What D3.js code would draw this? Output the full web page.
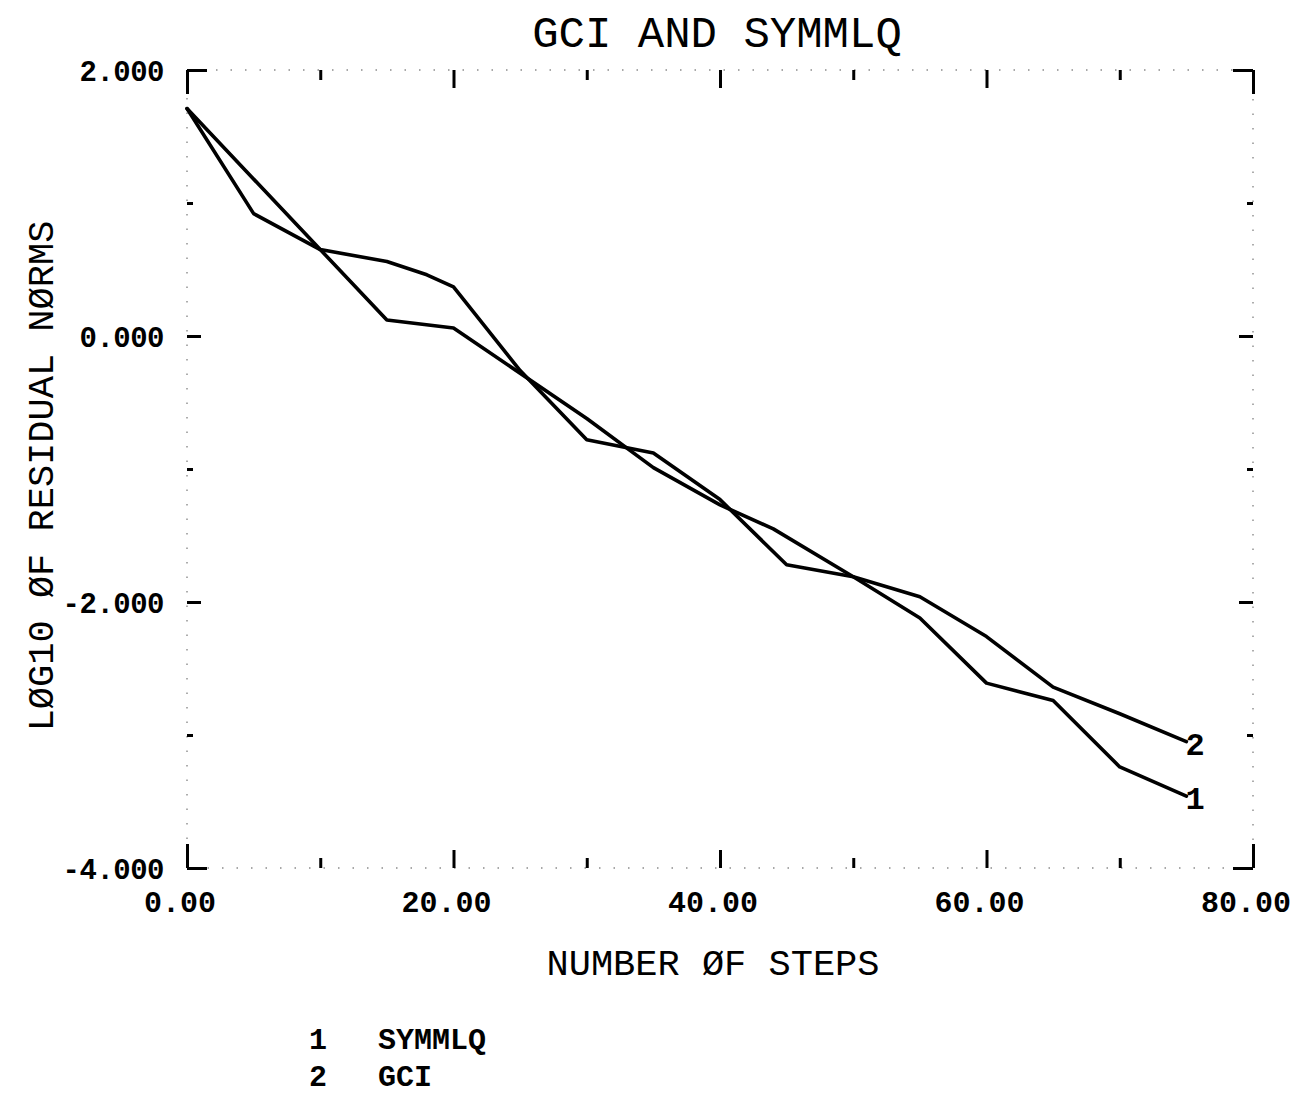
<!DOCTYPE html>
<html>
<head>
<meta charset="utf-8">
<script src="https://cdn.jsdelivr.net/npm/d3@7"></script>
<style>
  body { margin: 0; background: #fff; }
  text { font-family: "Liberation Mono", "DejaVu Sans Mono", monospace; fill: #000; }
</style>
</head>
<body>
<div id="graph"></div>
<script>
// curve 1 - SYMMLQ (step, log10 residual norm)
var symmlqSteps = [0, 15, 20, 30, 35, 40, 44, 50, 55, 60, 65, 70, 75];
var symmlqLog   = [1.71, 0.12, 0.06, -0.62, -0.99, -1.27, -1.45, -1.81, -2.12, -2.61, -2.74, -3.24, -3.46];

// curve 2 - GCI
var gciSteps = [0, 5, 10, 15, 18, 20, 25, 30, 35, 40, 45, 50, 55, 60, 65, 70, 75];
var gciLog   = [1.71, 0.92, 0.65, 0.56, 0.46, 0.37, -0.26, -0.78, -0.88, -1.23, -1.72, -1.81, -1.96, -2.26, -2.64, -2.84, -3.05];

var curveKeys  = ["1", "2"];
var curveNames = ["SYMMLQ", "GCI"];

var xTicks = [0, 10, 20, 30, 40, 50, 60, 70, 80];
var xLabelValues = [0, 20, 40, 60, 80];
var xTickLabels  = ["0.00", "20.00", "40.00", "60.00", "80.00"];

var yTicks = [2, 1, 0, -1, -2, -3, -4];
var yLabelValues = [2, 0, -2, -4];
var yTickLabels  = ["2.000", "0.000", "-2.000", "-4.000"];

var w = 1295;
var h = 1096;
// plot box (note: "top" is reserved on window, so use pad_ names)
var pad_left = 187, pad_right = 1253, pad_top = 70, pad_bottom = 868;

var xScale = d3.scaleLinear().domain([0, 80]).range([pad_left, pad_right]);
var yScale = d3.scaleLinear().domain([-4, 2]).range([pad_bottom, pad_top]);

var svg = d3.select("#graph")
    .append("svg")
    .attr("width", w)
    .attr("height", h);

// faint dotted frame (the plotter barely inked it)
var frame = [[pad_left, pad_top, pad_right, pad_top], [pad_right, pad_top, pad_right, pad_bottom],
             [pad_right, pad_bottom, pad_left, pad_bottom], [pad_left, pad_bottom, pad_left, pad_top]];
svg.append("g").selectAll("line")
    .data(frame)
    .enter().append("line")
    .attr("x1", function(d) { return d[0]; })
    .attr("y1", function(d) { return d[1]; })
    .attr("x2", function(d) { return d[2]; })
    .attr("y2", function(d) { return d[3]; })
    .attr("stroke", "#000")
    .attr("stroke-width", 1.4)
    .attr("stroke-dasharray", "1.5,13")
    .attr("opacity", 0.45);

function tickLen(d, ends, majorStep) {
  if (d === ends[0] || d === ends[1]) return 24;
  return d % majorStep === 0 ? 18 : 10;
}

function styleTicks(g) {
  g.select(".domain").remove();
  g.selectAll(".tick line").attr("stroke", "#000").attr("stroke-width", 3);
}

var topAxis = svg.append("g")
    .attr("transform", "translate(0," + pad_top + ")")
    .call(d3.axisTop(xScale).tickValues(xTicks).tickSize(-10).tickFormat(""))
    .call(styleTicks);
topAxis.selectAll(".tick line").attr("y2", function(d) { return tickLen(d, [0, 80], 20); });

var bottomAxis = svg.append("g")
    .attr("transform", "translate(0," + pad_bottom + ")")
    .call(d3.axisBottom(xScale).tickValues(xTicks).tickSize(-10).tickFormat(""))
    .call(styleTicks);
bottomAxis.selectAll(".tick line").attr("y2", function(d) { return -tickLen(d, [0, 80], 20); });

var leftAxis = svg.append("g")
    .attr("transform", "translate(" + pad_left + ",0)")
    .call(d3.axisLeft(yScale).tickValues(yTicks).tickSize(-10).tickFormat(""))
    .call(styleTicks);
leftAxis.selectAll(".tick line").attr("x2", function(d) { return tickLen(d, [2, -4], 2) - 4; });

var rightAxis = svg.append("g")
    .attr("transform", "translate(" + pad_right + ",0)")
    .call(d3.axisRight(yScale).tickValues(yTicks).tickSize(-10).tickFormat(""))
    .call(styleTicks);
rightAxis.selectAll(".tick line").attr("x2", function(d) { return -(tickLen(d, [2, -4], 2) - 4); });

// tick labels
svg.append("g").selectAll("text")
    .data(xLabelValues)
    .enter().append("text")
    .attr("x", function(d) { return xScale(d) - 7; })
    .attr("y", 912)
    .attr("text-anchor", "middle")
    .attr("font-size", "30px")
    .attr("font-weight", "bold")
    .text(function(d, i) { return xTickLabels[i]; });

svg.append("g").selectAll("text")
    .data(yLabelValues)
    .enter().append("text")
    .attr("x", 164)
    .attr("y", function(d) { return yScale(d) + 11; })
    .attr("text-anchor", "end")
    .attr("font-size", "29px")
    .attr("font-weight", "bold")
    .attr("letter-spacing", "-0.5px")
    .text(function(d, i) { return yTickLabels[i]; });

// titles
svg.append("text")
    .attr("x", 717)
    .attr("y", 47)
    .attr("text-anchor", "middle")
    .attr("font-size", "44px")
    .text("GCI AND SYMMLQ");

svg.append("text")
    .attr("x", 713)
    .attr("y", 975)
    .attr("text-anchor", "middle")
    .attr("font-size", "37px")
    .text("NUMBER ØF STEPS");

svg.append("text")
    .attr("transform", "translate(53,476) rotate(-90)")
    .attr("text-anchor", "middle")
    .attr("font-size", "37px")
    .text("LØG10 ØF RESIDUAL NØRMS");

// curves
var curves = [d3.zip(symmlqSteps, symmlqLog), d3.zip(gciSteps, gciLog)];

var line = d3.line()
    .x(function(d) { return xScale(d[0]); })
    .y(function(d) { return yScale(d[1]); });

svg.append("g").selectAll("path")
    .data(curves)
    .enter().append("path")
    .attr("d", line)
    .attr("fill", "none")
    .attr("stroke", "#000")
    .attr("stroke-width", 3.6)
    .attr("stroke-linejoin", "round")
    .attr("stroke-linecap", "round");

// curve number at the end of each line
svg.append("g").selectAll("text")
    .data(curves)
    .enter().append("text")
    .attr("x", function(d) { return xScale(d[d.length - 1][0]) - 1; })
    .attr("y", function(d) { return yScale(d[d.length - 1][1]) + 13; })
    .attr("font-size", "32px")
    .attr("font-weight", "bold")
    .text(function(d, i) { return curveKeys[i]; });

// legend
var legend = svg.append("g").selectAll("g")
    .data(curveNames)
    .enter().append("g")
    .attr("transform", function(d, i) { return "translate(0," + (1049 + i * 37) + ")"; });

legend.append("text")
    .attr("x", 318)
    .attr("text-anchor", "middle")
    .attr("font-size", "30px")
    .attr("font-weight", "bold")
    .text(function(d, i) { return curveKeys[i]; });

legend.append("text")
    .attr("x", 378)
    .attr("font-size", "30px")
    .attr("font-weight", "bold")
    .text(function(d) { return d; });
</script>
</body>
</html>
